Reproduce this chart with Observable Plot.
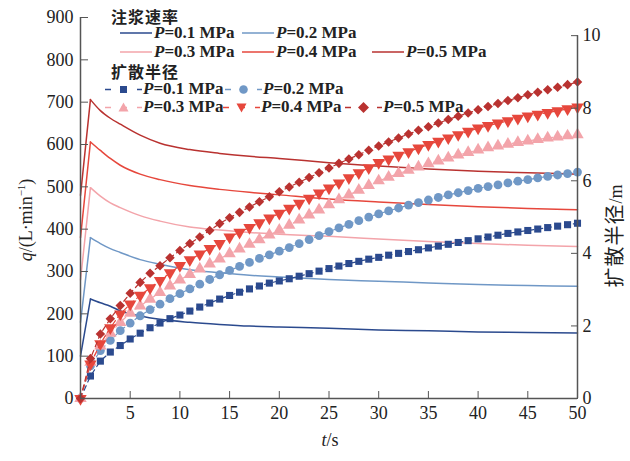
<!DOCTYPE html>
<html><head><meta charset="utf-8">
<script src="https://cdn.jsdelivr.net/npm/d3@7"></script>
<script src="https://cdn.jsdelivr.net/npm/@observablehq/plot@0.6"></script>
<style>
body{margin:0;background:#fff;}
#wrap{position:relative;width:630px;height:461px;font-family:"Liberation Serif",serif;color:#222;}
.row{position:absolute;display:flex;align-items:center;height:14px;white-space:nowrap;}
.lt{font-family:"Liberation Serif",serif;font-size:17px;font-weight:bold;line-height:14px;}
.cn{position:absolute;font-family:"Noto Sans CJK SC",sans-serif;font-size:16px;font-weight:600;line-height:15px;white-space:nowrap;letter-spacing:1px;}
.ax{position:absolute;white-space:nowrap;font-size:18px;line-height:1;transform:translate(-50%,-50%);}
.rot{transform:translate(-50%,-50%) rotate(-90deg);}
#wrap svg text{font-family:"Liberation Serif",serif !important;font-size:18px !important;fill:#222;}
</style></head><body><div id="wrap"></div>
<script>
// ---- data ----
const pressures = ["0.1", "0.2", "0.3", "0.4", "0.5"];
const colors = ["#2b4a8e", "#7098c6", "#f3a4aa", "#e6473c", "#b93230"];
// injection rate q (L/min) vs time
const flowT = [0, 1, 2, 3, 4, 6, 8, 11, 14, 17, 20, 25, 30, 35, 40, 45, 50];
const q01 = [100, 235, 226, 218, 207, 195, 187, 180, 175, 171, 169, 166, 162, 160, 157, 156, 155];
const q02 = [180, 380, 366, 354, 345, 328, 317, 304, 297, 291, 287, 281, 277, 273, 269, 267, 265];
const q03 = [280, 498, 478, 462, 451, 432, 419, 405, 398, 392, 388, 383, 377, 371, 366, 362, 359];
const q04 = [380, 606, 586, 567, 551, 530, 517, 503, 494, 487, 481, 471, 464, 458, 453, 449, 446];
const q05 = [480, 706, 680, 662, 648, 622, 603, 588, 579, 572, 567, 557, 549, 542, 537, 533, 530];
// diffusion radius (m) vs time
const radT = [0,1,2,3,4,5,6,7,8,9,10,11,12,13,14,15,16,17,18,19,20,21,22,23,24,25,26,27,28,29,30,31,32,33,34,35,36,37,38,39,40,41,42,43,44,45,46,47,48,49,50];
const r01 = [0,0.62,1.03,1.28,1.46,1.64,1.80,1.95,2.08,2.20,2.30,2.41,2.52,2.63,2.74,2.84,2.93,3.02,3.10,3.18,3.24,3.30,3.37,3.44,3.51,3.58,3.65,3.72,3.78,3.84,3.89,3.95,4.00,4.05,4.10,4.15,4.20,4.25,4.30,4.35,4.40,4.45,4.50,4.55,4.59,4.63,4.67,4.71,4.75,4.79,4.83];
const r02 = [0,0.90,1.32,1.60,1.87,2.08,2.28,2.45,2.60,2.75,2.89,3.02,3.15,3.28,3.41,3.53,3.64,3.75,3.86,3.96,4.06,4.16,4.27,4.38,4.49,4.60,4.70,4.80,4.90,5.00,5.09,5.17,5.25,5.33,5.40,5.47,5.54,5.61,5.67,5.73,5.79,5.84,5.89,5.94,5.99,6.03,6.08,6.12,6.16,6.20,6.24];
const r03 = [0,1.00,1.45,1.80,2.10,2.35,2.55,2.74,2.92,3.10,3.27,3.42,3.57,3.71,3.85,3.99,4.12,4.25,4.38,4.51,4.64,4.78,4.92,5.06,5.20,5.34,5.48,5.61,5.74,5.87,6.00,6.10,6.20,6.29,6.38,6.47,6.55,6.63,6.71,6.78,6.85,6.91,6.96,7.01,7.06,7.10,7.14,7.18,7.21,7.24,7.27];
const r04 = [0,0.95,1.51,1.95,2.33,2.60,2.84,3.05,3.25,3.46,3.66,3.82,3.98,4.13,4.27,4.45,4.58,4.71,4.84,4.97,5.10,5.24,5.38,5.52,5.66,5.80,5.94,6.08,6.22,6.36,6.50,6.60,6.70,6.80,6.90,7.00,7.09,7.18,7.27,7.36,7.45,7.52,7.59,7.65,7.72,7.78,7.83,7.88,7.93,7.98,8.03];
const r05 = [0,1.10,1.78,2.20,2.56,2.90,3.20,3.45,3.66,3.88,4.08,4.27,4.45,4.63,4.82,4.98,5.13,5.28,5.42,5.56,5.70,5.83,5.96,6.09,6.22,6.35,6.48,6.60,6.72,6.84,6.96,7.07,7.18,7.29,7.39,7.49,7.59,7.69,7.78,7.87,7.96,8.05,8.13,8.21,8.29,8.37,8.44,8.51,8.58,8.65,8.72];
// axes
const xTicks = [5, 10, 15, 20, 25, 30, 35, 40, 45, 50];
const qTicks = [0, 100, 200, 300, 400, 500, 600, 700, 800, 900];
const rTicks = [0, 2, 4, 6, 8, 10];
const qMax = 900, rMax = 10.5;

// ---- build ----
const K = qMax / rMax;
const qSeries = [q01, q02, q03, q04, q05];
const rSeries = [r01, r02, r03, r04, r05];
const triDown = {draw(ctx, size) {
  const s3 = Math.sqrt(3);
  const y = -Math.sqrt(size / (s3 * 3));
  ctx.moveTo(0, -y * 2); ctx.lineTo(-s3 * y, y); ctx.lineTo(s3 * y, y); ctx.closePath();
}};
const symbols = ["square", "circle", "triangle", triDown, "diamond2"];
const radii = [4, 4.4, 4.6, 4.6, 4.3];
const axisColor = "#555";

const marks = [];
qSeries.forEach((vals, i) => {
  const d = vals.map((q, j) => ({t: flowT[j], q}));
  marks.push(Plot.line(d.slice(0, 2), {x: "t", y: "q", stroke: colors[i], strokeWidth: 1.5}));
  marks.push(Plot.line(d.slice(1), {x: "t", y: "q", stroke: colors[i], strokeWidth: 1.5, curve: "monotone-x"}));
});
rSeries.forEach((vals, i) => {
  const d = vals.map((r, j) => ({t: radT[j], r}));
  marks.push(Plot.line(d, {x: "t", y: dd => dd.r * K, stroke: colors[i], strokeWidth: 1.2, strokeDasharray: "5,4"}));
  marks.push(Plot.dot(d, {x: "t", y: dd => dd.r * K, fill: colors[i], stroke: "none", symbol: symbols[i], r: radii[i]}));
});
marks.push(
  Plot.ruleY([0], {stroke: axisColor, strokeWidth: 1.5}),
  Plot.ruleX([0], {y1: 0, y2: qMax, stroke: axisColor, strokeWidth: 1.5}),
  Plot.ruleX([50], {y1: 0, y2: rTicks[rTicks.length - 1] * K, stroke: axisColor, strokeWidth: 1.5}),
  Plot.axisX({ticks: xTicks, tickSize: -7, tickPadding: 15, label: null, stroke: axisColor}),
  Plot.axisY({anchor: "left", ticks: qTicks, tickSize: -8, tickPadding: 15, label: null, stroke: axisColor}),
  Plot.axisY({anchor: "right", ticks: rTicks.map(v => v * K), tickFormat: d => String(Math.round(d / K)), tickSize: -7, tickPadding: 12, label: null, stroke: axisColor})
);

const chart = Plot.plot({
  width: 630, height: 461,
  marginLeft: 80, marginRight: 53, marginTop: 17, marginBottom: 63,
  x: {domain: [0, 50]},
  y: {domain: [0, qMax]},
  style: {"font-family": "'Liberation Serif', serif", "font-size": "18px", color: "#222", background: "transparent", overflow: "visible"},
  marks
});
const wrap = document.getElementById("wrap");
chart.style.position = "absolute"; chart.style.left = "0"; chart.style.top = "0";
wrap.appendChild(chart);

// ---- legend (HTML overlay) ----
function add(html, cls, left, top) {
  const el = document.createElement("div");
  el.className = cls; el.innerHTML = html;
  el.style.left = left + "px"; el.style.top = top + "px";
  wrap.appendChild(el); return el;
}
const lab = p => `<span class="lt"><i>P</i>=${p} MPa</span>`;
add("注浆速率", "cn", 111, 9);
add("扩散半径", "cn", 111, 64);
const lineLeg = [[0, 120, 33], [1, 242, 33], [2, 120, 52], [3, 242, 52], [4, 372, 52]];
lineLeg.forEach(([i, x, y]) => {
  add(`<svg width="34" height="6"><line x1="0" x2="32" y1="3" y2="3" stroke="${colors[i]}" stroke-width="1.5"/></svg>${lab(pressures[i])}`, "row", x, y - 7);
});
const symPaths = [
  c => `<rect x="15" y="3" width="7" height="7" fill="${c}"/>`,
  c => `<circle cx="18.5" cy="6.5" r="4.3" fill="${c}"/>`,
  c => `<path d="M18.5,1.5 L23.5,10.5 L13.5,10.5 Z" fill="${c}"/>`,
  c => `<path d="M18.5,11.5 L23.5,2.5 L13.5,2.5 Z" fill="${c}"/>`,
  c => `<path d="M18.5,1 L24,6.5 L18.5,12 L13,6.5 Z" fill="${c}"/>`
];
const markLeg = [[0, 105, 89], [1, 225, 89], [2, 105, 107], [3, 223, 107], [4, 345, 107]];
markLeg.forEach(([i, x, y]) => {
  add(`<svg width="38" height="13"><line x1="0" x2="37" y1="6.5" y2="6.5" stroke="${colors[i]}" stroke-width="1.5" stroke-dasharray="6,10"/>${symPaths[i](colors[i])}</svg>${lab(pressures[i])}`, "row", x, y - 7);
});
// axis titles
add(`<i>q</i>/(L·min<sup style="font-size:11px">−1</sup>)`, "ax rot", 25, 220);
add(`<span style="font-family:'Noto Sans CJK SC';font-size:20px;letter-spacing:1px">扩散半径</span>/m`, "ax rot", 614, 236);
add(`<i>t</i>/s`, "ax", 330, 440);
</script></body></html>
